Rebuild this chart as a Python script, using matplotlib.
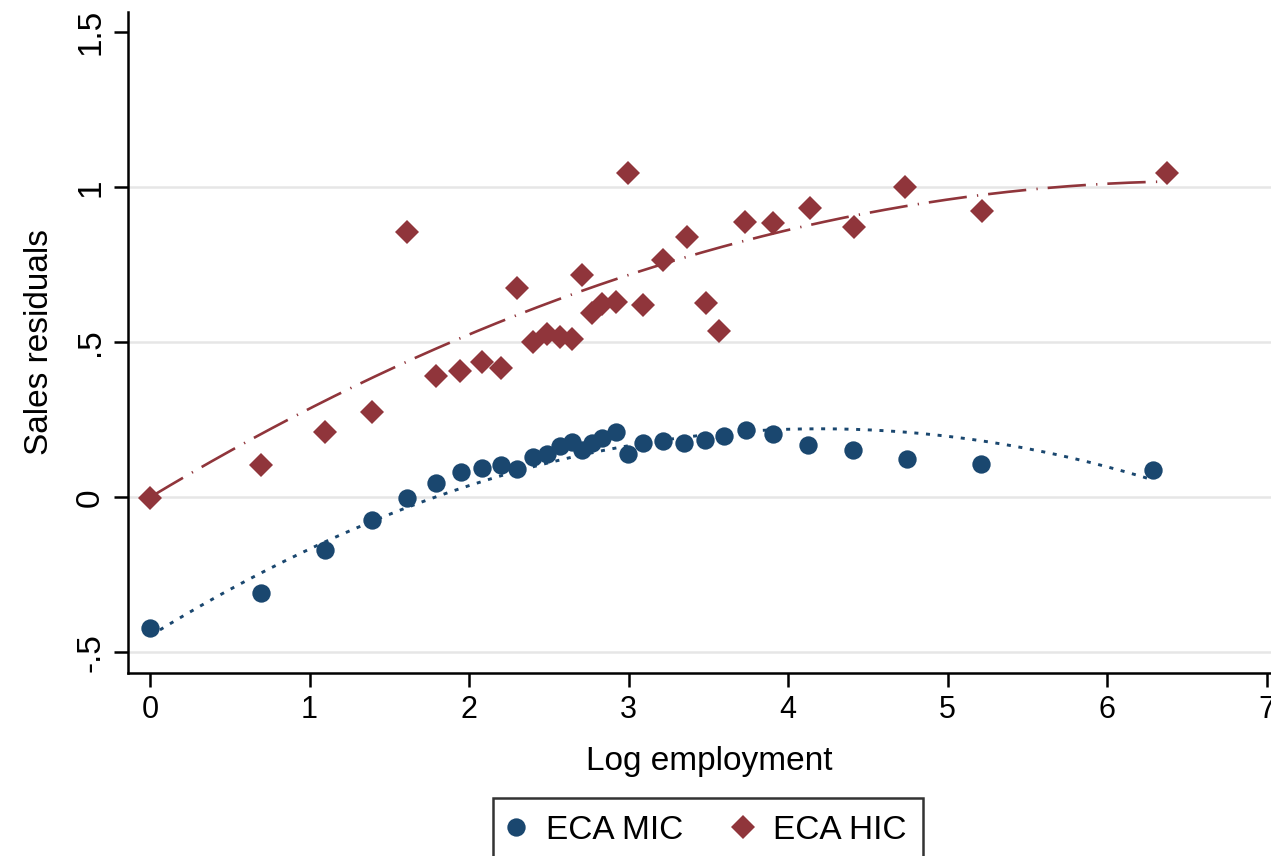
import numpy as np
import matplotlib
matplotlib.use("Agg")
import matplotlib.pyplot as plt

# ---------------- data ----------------
mic_x = [0.000, 0.694, 1.099, 1.390, 1.613, 1.793, 1.948, 2.081, 2.198, 2.303,
         2.403, 2.487, 2.570, 2.643, 2.708, 2.771, 2.832, 2.919, 2.998, 3.092,
         3.218, 3.349, 3.479, 3.598, 3.736, 3.907, 4.127, 4.405, 4.746, 5.211, 6.290]
mic_y = [-0.420, -0.308, -0.170, -0.073, -0.003, 0.045, 0.083, 0.095, 0.104, 0.092,
         0.129, 0.140, 0.166, 0.179, 0.153, 0.174, 0.190, 0.212, 0.140, 0.174,
         0.182, 0.174, 0.184, 0.199, 0.217, 0.204, 0.169, 0.153, 0.124, 0.106, 0.088]

hic_x = [0.000, 0.694, 1.099, 1.390, 1.613, 1.793, 1.945, 2.081, 2.198, 2.303,
         2.399, 2.487, 2.570, 2.643, 2.708, 2.771, 2.832, 2.921, 2.998, 3.092,
         3.218, 3.364, 3.484, 3.569, 3.732, 3.907, 4.138, 4.411, 4.735, 5.214, 6.377]
hic_y = [-0.003, 0.104, 0.210, 0.276, 0.857, 0.392, 0.407, 0.436, 0.416, 0.674,
         0.501, 0.526, 0.516, 0.512, 0.717, 0.595, 0.624, 0.631, 1.047, 0.620,
         0.765, 0.839, 0.626, 0.536, 0.888, 0.884, 0.932, 0.871, 1.002, 0.924, 1.045]

# quadratic fit lines (intercept, linear, quadratic)
mic_fit = [-0.4472, 0.3182, -0.03788]
hic_fit = [0.0, 0.3096, -0.0235]

series_labels = ["ECA MIC", "ECA HIC"]
x_ticks = [0, 1, 2, 3, 4, 5, 6, 7]
y_ticks = [-0.5, 0, 0.5, 1, 1.5]
y_tick_labels = ["-.5", "0", ".5", "1", "1.5"]
x_title = "Log employment"
y_title = "Sales residuals"

# ---------------- style ----------------
NAVY = "#1a476f"
MAROON = "#90353b"
GRID = "#e6e6e6"
plt.rcParams["font.family"] = ["Liberation Sans", "DejaVu Sans"]
plt.rcParams["lines.scale_dashes"] = False

W, H = 1271, 856
fig = plt.figure(figsize=(W / 100, H / 100), dpi=100)
left_px, right_px, top_px, bottom_px = 128.3, 1290.0, 11.7, 672.7
ax = fig.add_axes([left_px / W, 1 - bottom_px / H,
                   (right_px - left_px) / W, (bottom_px - top_px) / H])

ax.set_xlim(-0.136, 7.146)
ax.set_ylim(-0.5658, 1.5665)

def quad(c, x):
    return c[0] + c[1] * x + c[2] * x ** 2

xm = np.linspace(min(mic_x), max(mic_x), 300)
xh = np.linspace(min(hic_x), max(hic_x), 300)
ax.plot(xm, quad(mic_fit, xm), color=NAVY, lw=2.1, dashes=(2.9, 5.5),
        dash_capstyle="butt", zorder=3)
ax.plot(xh, quad(hic_fit, xh), color=MAROON, lw=1.9,
        dashes=(27.6, 7.4, 0.9, 7.2), dash_capstyle="butt", zorder=3)

ax.plot(mic_x, mic_y, linestyle="none", marker="o", ms=13.2, mew=0,
        color=NAVY, zorder=4, label=series_labels[0])
ax.plot(hic_x, hic_y, linestyle="none", marker="D", ms=12.6, mew=0,
        color=MAROON, zorder=5, label=series_labels[1])

ax.set_yticks(y_ticks)
ax.set_yticklabels(y_tick_labels)
ax.set_xticks(x_ticks)
ax.yaxis.grid(True, color=GRID, lw=1.8, zorder=0)
ax.set_axisbelow(True)
for val, gl in zip(y_ticks, ax.get_ygridlines()):
    if val == 1.5:
        gl.set_visible(False)

for s in ["top", "right"]:
    ax.spines[s].set_visible(False)
for s in ["left", "bottom"]:
    ax.spines[s].set_linewidth(1.8)
    ax.spines[s].set_color("black")
ax.tick_params(axis="both", direction="out", length=10, width=1.8, pad=6,
               color="black")
ax.tick_params(axis="x", labelsize=22)
ax.tick_params(axis="y", labelsize=24, labelrotation=90)
for lbl in ax.get_yticklabels():
    lbl.set_va("center")

ax.set_xlabel(x_title, fontsize=24, labelpad=15)
ax.set_ylabel(y_title, fontsize=24, labelpad=14.5)

leg = fig.legend(loc="upper left", bbox_to_anchor=(493.3 / W, 1 - 798.3 / H),
                 ncol=2, fontsize=24, frameon=True, fancybox=False,
                 edgecolor="black", borderpad=0.5, handlelength=0.36,
                 handletextpad=0.72, columnspacing=1.6, borderaxespad=0,
                 numpoints=1)
leg.get_frame().set_linewidth(1.8)

fig.savefig("out.png", dpi=100)
